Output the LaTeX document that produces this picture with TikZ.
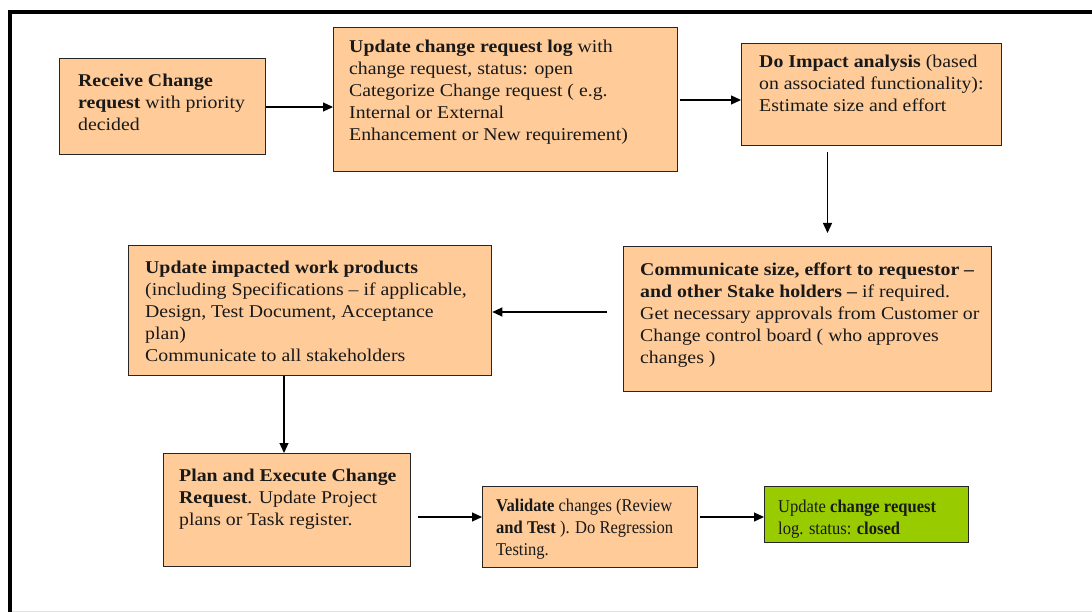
\documentclass[tikz,border=0pt]{standalone}
\usepackage{fontspec}
\setmainfont[FakeStretch=1.1]{Liberation Serif}
\newfontfamily\narrowserif[FakeStretch=0.92]{Liberation Serif}
\usetikzlibrary{arrows.meta}
\definecolor{boxorange}{HTML}{FFCC99}
\definecolor{boxgreen}{HTML}{99CC00}
\tikzset{
  box/.style={draw=black!85, line width=1.3pt, fill=boxorange, anchor=north west, inner sep=0pt},
  donebox/.style={box, fill=boxgreen},
  txt/.style={anchor=north west, inner sep=0pt, align=left, font=\fontsize{18}{22}\selectfont, text=black!90},
  narrowtxt/.style={txt, font=\narrowserif\fontsize{18}{22}\selectfont},
  flow/.style={line width=1.2pt, -{Triangle[length=10pt,width=9pt]}},
}
\begin{document}
\begin{tikzpicture}[x=1pt,y=-1pt]
\useasboundingbox (0,0) rectangle (1092,612);
\fill[white] (0,0) rectangle (1092,612);
% frame
\draw[line width=4pt] (1092,12.5) -- (9.5,12.5) -- (9.5,612);
\draw[black!12, line width=1pt] (12,611) -- (1092,611);

% boxes
\node[box, minimum width=206pt, minimum height=96pt] (b1) at (59,58) {};
\node[box, minimum width=344pt, minimum height=144pt] (b2) at (333,27) {};
\node[box, minimum width=260pt, minimum height=102pt] (b3) at (741,43) {};
\node[box, minimum width=368pt, minimum height=145pt] (b4) at (623,246) {};
\node[box, minimum width=363pt, minimum height=130pt] (b5) at (128,245) {};
\node[box, minimum width=247pt, minimum height=113pt] (b6) at (163,453) {};
\node[box, minimum width=215pt, minimum height=81pt] (b7) at (482,486) {};
\node[donebox, minimum width=204pt, minimum height=56pt] (b8) at (764,486) {};

% texts
\node[txt] (t1) at (78,74) {\textbf{Receive Change}\\\textbf{request} with priority\\decided};
\node[txt] (t2) at (349,40) {\textbf{Update change request log} with\\change request, status: open\\Categorize Change request ( e.g.\\Internal or External\\Enhancement or New requirement)};
\node[txt] (t3) at (759,55) {\textbf{Do Impact analysis} (based\\on associated functionality):\\Estimate size and effort};
\node[txt] (t4) at (640,263) {\textbf{Communicate size, effort to requestor –}\\\textbf{and other Stake holders –} if required.\\Get necessary approvals from Customer or\\Change control board ( who approves\\changes )};
\node[txt] (t5) at (145,261) {\textbf{Update impacted work products}\\(including Specifications – if applicable,\\Design, Test Document, Acceptance\\plan)\\Communicate to all stakeholders};
\node[txt] (t6) at (179,469) {\textbf{Plan and Execute Change}\\\textbf{Request}. Update Project\\plans or Task register.};
\node[narrowtxt] (t7) at (496,499) {\textbf{Validate} changes (Review\\\textbf{and Test} ). Do Regression\\Testing.};
\node[narrowtxt] (t8) at (778,500) {Update \textbf{change request}\\log. status: \textbf{closed}};

% connectors
\coordinate (a2s) at (680,100);
\coordinate (a3s) at (827.5,152);
\coordinate (a3e) at (827.5,233);
\coordinate (a4s) at (607,312);
\coordinate (a6s) at (418,517);
\coordinate (a7s) at (700,517);
\draw[flow] (b1.east |- 0,107) -- (b2.west |- 0,107);
\draw[flow] (a2s) -- (b3.west |- a2s);
\draw[flow] (a3s) -- (a3e);
\draw[flow] (a4s) -- (b5.east |- a4s);
\draw[flow] (b5.south -| 284,0) -- (b6.north -| 284,0);
\draw[flow] (a6s) -- (b7.west |- a6s);
\draw[flow] (a7s) -- (b8.west |- a7s);
\end{tikzpicture}
\end{document}
